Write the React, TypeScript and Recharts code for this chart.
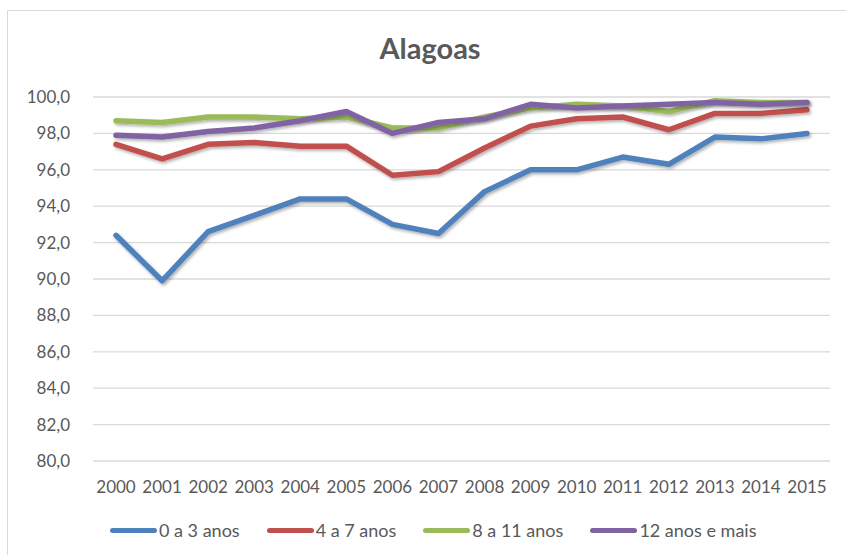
import { LineChart, Line, XAxis, YAxis, CartesianGrid, Legend } from "recharts";

const years = ["2000", "2001", "2002", "2003", "2004", "2005", "2006", "2007", "2008", "2009", "2010", "2011", "2012", "2013", "2014", "2015"];

const age0to3 = [92.4, 89.9, 92.6, 93.5, 94.4, 94.4, 93.0, 92.5, 94.8, 96.0, 96.0, 96.7, 96.3, 97.8, 97.7, 98.0];
const age4to7 = [97.4, 96.6, 97.4, 97.5, 97.3, 97.3, 95.7, 95.9, 97.2, 98.4, 98.8, 98.9, 98.2, 99.1, 99.1, 99.3];
const age8to11 = [98.7, 98.6, 98.9, 98.9, 98.8, 98.9, 98.3, 98.3, 98.9, 99.4, 99.6, 99.5, 99.2, 99.8, 99.7, 99.7];
const age12plus = [97.9, 97.8, 98.1, 98.3, 98.7, 99.2, 98.0, 98.6, 98.8, 99.6, 99.4, 99.5, 99.6, 99.7, 99.6, 99.7];

const yTicks = [80, 82, 84, 86, 88, 90, 92, 94, 96, 98, 100];

const series = [
  { key: "a", name: "0 a 3 anos", color: "#4f81bd", values: age0to3 },
  { key: "b", name: "4 a 7 anos", color: "#c0504d", values: age4to7 },
  { key: "c", name: "8 a 11 anos", color: "#9bbb59", values: age8to11 },
  { key: "d", name: "12 anos e mais", color: "#8064a2", values: age12plus },
];

const data = years.map((year, i) => {
  const row: Record<string, string | number> = { year };
  series.forEach((s) => {
    row[s.key] = s.values[i];
  });
  return row;
});

const textColor = "#595959";
const font = "Lato, 'Open Sans', sans-serif";

// legend keeps the series order (recharts sorts the payload by default)
function LegendContent() {
  return (
    <div style={{ display: "flex", height: 22, alignItems: "center", fontFamily: font, fontSize: 18, color: textColor }}>
      {series.map((s) => (
        <div key={s.key} style={{ display: "flex", alignItems: "center", marginRight: 27 }}>
          <span style={{ display: "inline-block", width: 47, height: 5, borderRadius: 3, background: s.color, marginRight: 2 }} />
          <span>{s.name}</span>
        </div>
      ))}
    </div>
  );
}

export default function App() {
  return (
    <div style={{ position: "absolute", left: 0, top: 0, width: 846, height: 555, overflow: "hidden", background: "#fff" }}>
      <div style={{ position: "absolute", left: 7, top: 10, width: 900, height: 600, border: "1px solid #d9d9d9" }} />
      <div
        style={{
          position: "absolute",
          left: 0,
          top: 30,
          width: 860,
          textAlign: "center",
          fontFamily: font,
          fontWeight: 700,
          fontSize: 29,
          color: textColor,
        }}
      >
        Alagoas
      </div>
      <div style={{ position: "absolute", left: 0, top: 0 }}>
        <LineChart width={846} height={555} data={data} margin={{ top: 97, right: 16, bottom: 32, left: 0 }}>
          <defs>
            <filter id="shadow" x="-5%" y="-20%" width="110%" height="140%">
              <feDropShadow dx="1.5" dy="2" stdDeviation="1.5" floodColor="#000" floodOpacity="0.3" />
            </filter>
          </defs>
          <CartesianGrid vertical={false} stroke="#d9d9d9" strokeWidth={1.3} />
          <XAxis
            dataKey="year"
            axisLine={false}
            tickLine={false}
            tickSize={0}
            tickMargin={20}
            height={40}
            padding={{ left: 23, right: 23 }}
            interval={0}
            tick={{ fill: textColor, fontSize: 17, fontFamily: font }}
          />
          <YAxis
            domain={[80, 100]}
            ticks={yTicks}
            width={93}
            axisLine={false}
            tickLine={false}
            tickSize={0}
            tickMargin={23}
            tickFormatter={(v: number) => v.toFixed(1).replace(".", ",")}
            tick={{ fill: textColor, fontSize: 17, fontFamily: font }}
          />
          <Legend
            verticalAlign="bottom"
            content={<LegendContent />}
            wrapperStyle={{ top: 519, left: 110, width: 720 }}
          />
          {series.map((s) => (
            <Line
              key={s.key}
              dataKey={s.key}
              name={s.name}
              stroke={s.color}
              strokeWidth={5.5}
              strokeLinecap="round"
              strokeLinejoin="round"
              filter="url(#shadow)"
              dot={false}
              activeDot={false}
              isAnimationActive={false}
            />
          ))}
        </LineChart>
      </div>
    </div>
  );
}
